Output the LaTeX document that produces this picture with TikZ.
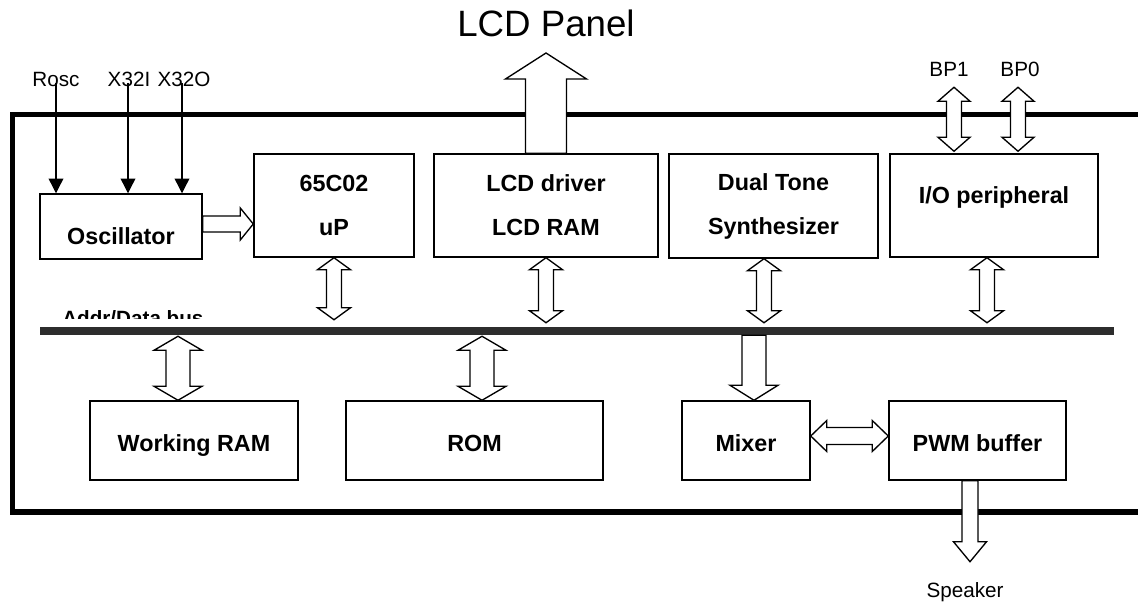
\documentclass[tikz,border=0pt]{standalone}
\usepackage{fontspec}
\setmainfont{Liberation Sans}
\usetikzlibrary{arrows.meta,calc}
\tikzset{>=Stealth}
\definecolor{busgray}{RGB}{45,45,45}

\tikzset{
  blk/.style={draw, line width=1.1pt, inner sep=0pt, align=center,
    font=\bfseries\fontsize{17.5}{33}\selectfont},
  low/.style={text height=15.75pt, text depth=0pt},
  lbl/.style={inner sep=0pt, font=\fontsize{15.5}{18}\selectfont},
  blockarr/.style={draw, fill=white, line width=1pt, line join=miter},
  pin/.style={-{Triangle[length=11pt,width=11pt]}, line width=1pt},
  frame/.style={line width=4pt, line join=miter},
}

% block arrows: #1,#2 ends, #3 half shaft, #4 half head, #5 head length
\newcommand{\vdbl}[5]{%
  \draw[blockarr] let \p1=(#1), \p2=(#2) in
    (\x1,\y1) -- (\x1+#4,\y1-#5) -- (\x1+#3,\y1-#5) -- (\x1+#3,\y2+#5)
    -- (\x1+#4,\y2+#5) -- (\x1,\y2) -- (\x1-#4,\y2+#5) -- (\x1-#3,\y2+#5)
    -- (\x1-#3,\y1-#5) -- (\x1-#4,\y1-#5) -- cycle;}
\newcommand{\vone}[5]{% #1 tail, #2 tip
  \draw[blockarr] let \p1=(#1), \p2=(#2), \n1={sign(\y1-\y2)} in
    (\x2,\y2) -- (\x2+#4,\y2+\n1*#5) -- (\x2+#3,\y2+\n1*#5) -- (\x2+#3,\y1)
    -- (\x2-#3,\y1) -- (\x2-#3,\y2+\n1*#5) -- (\x2-#4,\y2+\n1*#5) -- cycle;}
\newcommand{\hdbl}[5]{%
  \draw[blockarr] let \p1=(#1), \p2=(#2) in
    (\x1,\y1) -- (\x1+#5,\y1+#4) -- (\x1+#5,\y1+#3) -- (\x2-#5,\y1+#3)
    -- (\x2-#5,\y1+#4) -- (\x2,\y1) -- (\x2-#5,\y1-#4) -- (\x2-#5,\y1-#3)
    -- (\x1+#5,\y1-#3) -- (\x1+#5,\y1-#4) -- cycle;}
\newcommand{\hone}[5]{% #1 tail, #2 tip (to the right)
  \draw[blockarr] let \p1=(#1), \p2=(#2) in
    (\x2,\y1) -- (\x2-#5,\y1+#4) -- (\x2-#5,\y1+#3) -- (\x1,\y1+#3)
    -- (\x1,\y1-#3) -- (\x2-#5,\y1-#3) -- (\x2-#5,\y1-#4) -- cycle;}

\begin{document}
\begin{tikzpicture}[x=0.75pt, y=-0.75pt]
  \useasboundingbox (0,0) rectangle (1138,606);
  % chip outline, open to the right
  \draw[frame] (1138,114.5) -| (12.5,512) -- (1138,512);
  % blocks
  \node[blk, minimum width=121.5pt, minimum height=48.75pt,
        text height=26.25pt, text depth=0pt] (osc) at (121,226.5) {Oscillator};
  \node[blk, minimum width=120pt, minimum height=77.25pt] (cpu) at (334,205.5) {65C02\\uP};
  \node[blk, minimum width=168pt, minimum height=77.25pt] (lcd) at (546,205.5) {LCD driver\\LCD RAM};
  \node[blk, minimum width=156.75pt, minimum height=78pt] (tone) at (773.5,206) {Dual Tone\\Synthesizer};
  \node[blk, minimum width=156pt, minimum height=77.25pt,
        text height=11pt, text depth=13.25pt] (io) at (994,205.5) {I/O peripheral};
  \node[blk, low, minimum width=156pt, minimum height=59.25pt] (wram) at (194,440.5) {Working RAM};
  \node[blk, low, minimum width=192.75pt, minimum height=59.25pt] (rom) at (474.5,440.5) {ROM};
  \node[blk, low, minimum width=96pt, minimum height=59.25pt] (mix) at (746,440.5) {Mixer};
  \node[blk, low, minimum width=132.75pt, minimum height=59.25pt] (pwm) at (977.5,440.5) {PWM buffer};
  % bus
  \node[fill=busgray, inner sep=0pt, minimum width=805.5pt, minimum height=6pt] (bus) at (577,331) {};
  \begin{scope}
    \clip (40,290) rectangle (320,318);
    \node[lbl, font=\bfseries\fontsize{15.5}{18}\selectfont, anchor=base west] (busname) at (62,325) {Addr/Data bus};
  \end{scope}
  % pins
  \node[lbl, anchor=base] (rosc) at (56,87) {Rosc};
  \node[lbl, anchor=base] (xin) at (129,87) {X32I};
  \node[lbl, anchor=base] (xout) at (184,87) {X32O};
  \node[lbl, anchor=base] (bp1) at (949,77) {BP1};
  \node[lbl, anchor=base] (bp0) at (1020,77) {BP0};
  \node[lbl, font=\fontsize{27.5}{30}\selectfont, anchor=base] (panel) at (546,37) {LCD Panel};
  \node[lbl, anchor=base] (spk) at (965,597) {Speaker};
  \draw[pin] ($(rosc.base)+(0,-4)$) -- (rosc.base |- osc.north);
  \draw[pin] ($(xin.base)+(-1,-4)$) -- ($(xin.base |- osc.north)+(-1,0)$);
  \draw[pin] ($(xout.base)+(-2,-4)$) -- ($(xout.base |- osc.north)+(-2,0)$);
  % block arrows
  \coordinate (oscout) at ($(osc.east)+(0,-2.5)$);
  \hone{oscout}{oscout -| cpu.west}{6pt}{12pt}{9.75pt}
  \coordinate (paneltip) at (546,53);
  \vone{lcd.north}{paneltip}{15.4pt}{30.4pt}{19.5pt}
  \coordinate (bp1e) at ($(io.north)+(-40,-2)$);
  \coordinate (bp0e) at ($(io.north)+(24,-2)$);
  \vdbl{$(bp1e)+(0,-64)$}{bp1e}{5.6pt}{12pt}{10.5pt}
  \vdbl{$(bp0e)+(0,-64)$}{bp0e}{5.6pt}{12pt}{10.5pt}
  \coordinate (cpub) at (cpu.south);
  \coordinate (lcdb) at (lcd.south);
  \coordinate (toneb) at ($(tone.south)+(-9.5,0)$);
  \coordinate (iob) at ($(io.south)+(-7,0)$);
  \vdbl{cpub}{$(cpub |- bus.north)+(0,-7)$}{5.6pt}{12.4pt}{9pt}
  \vdbl{lcdb}{$(lcdb |- bus.north)+(0,-4)$}{5.6pt}{12.4pt}{9pt}
  \vdbl{toneb}{$(toneb |- bus.north)+(0,-4)$}{5.6pt}{12.4pt}{9pt}
  \vdbl{iob}{$(iob |- bus.north)+(0,-4)$}{5.6pt}{12.4pt}{9pt}
  \coordinate (wramt) at ($(wram.north)+(-16,0)$);
  \coordinate (romt) at ($(rom.north)+(7.5,0)$);
  \coordinate (mixt) at ($(mix.north)+(8,0)$);
  \vdbl{$(wramt |- bus.south)+(0,1)$}{wramt}{9pt}{18pt}{10.5pt}
  \vdbl{$(romt |- bus.south)+(0,1)$}{romt}{9pt}{18pt}{10.5pt}
  \vone{mixt |- bus.south}{mixt}{9pt}{18pt}{11.25pt}
  \coordinate (mixo) at ($(mix.east)+(0,-4.5)$);
  \hdbl{mixo}{mixo -| pwm.west}{6.4pt}{11.6pt}{12pt}
  \coordinate (pwmo) at ($(pwm.south)+(-7.5,0)$);
  \vone{pwmo}{$(pwmo)+(0,81)$}{6pt}{12.4pt}{15pt}
\end{tikzpicture}
\end{document}
